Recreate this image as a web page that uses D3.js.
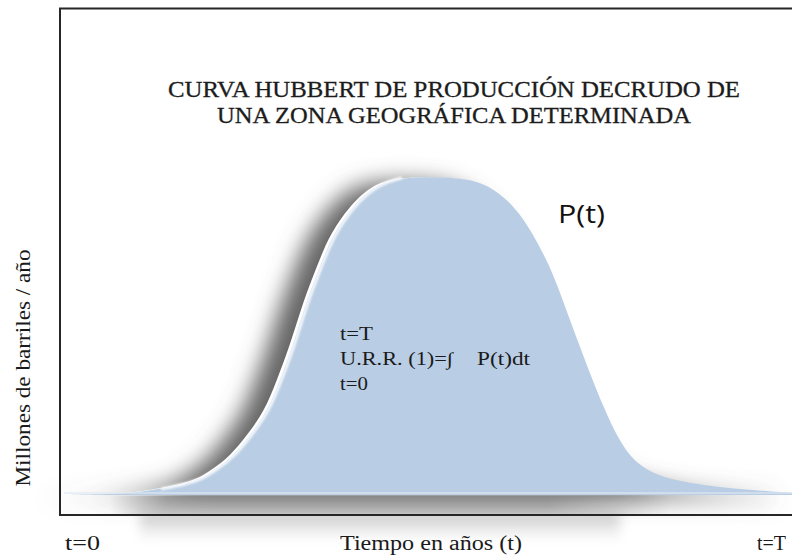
<!DOCTYPE html>
<html><head><meta charset="utf-8">
<script src="https://cdn.jsdelivr.net/npm/d3@7"></script>
<style>body{margin:0;background:#fff}svg{display:block}</style>
</head><body>
<script>
// Time (0 .. T, as % of the period) and production P(t) (as % of peak)
const years = [0, 4.9, 9.0, 13.0, 16.4, 18.5, 20.5, 23.0, 25.3, 27.6, 29.3, 31.1, 33.0, 34.8, 36.5, 39.8, 42.9, 45.7, 49.7, 53.8, 57.5, 62.0, 65.6, 66.7, 70.0, 73.5, 75.8, 78.1, 81.7, 87.6, 94.6, 100];
const production = [0, 0.2, 0.5, 1.9, 3.5, 5.0, 7.9, 12.3, 18.9, 26.2, 36.0, 47.0, 61.5, 72.0, 82.0, 92.7, 98.1, 99.7, 100, 99.7, 98.1, 89.6, 73.8, 68.1, 47.0, 26.2, 15.5, 9.1, 5.0, 2.8, 1.3, 0.6];
const xTickLabels = ["t=0", "t=T"];
const titleLines = ["CURVA HUBBERT DE PRODUCCIÓN DECRUDO DE", "UNA ZONA GEOGRÁFICA DETERMINADA"];
const integralLines = ["t=T", "U.R.R. (1)=∫", "t=0"];
const seriesLabel = "P(t)";
const xAxisTitle = "Tiempo en años (t)";
const yAxisTitle = "Millones de barriles / año";

const W = 792, H = 558;
const svg = d3.select("body").append("svg").attr("width", W).attr("height", H);
const defs = svg.append("defs");
defs.append("filter").attr("id","blurL").attr("filterUnits","userSpaceOnUse")
  .attr("x",0).attr("y",100).attr("width",W).attr("height",440)
  .append("feGaussianBlur").attr("stdDeviation", 11);
defs.append("filter").attr("id","blurB").attr("filterUnits","userSpaceOnUse")
  .attr("x",0).attr("y",460).attr("width",W).attr("height",98)
  .append("feGaussianBlur").attr("stdDeviation", 6);
defs.append("filter").attr("id","blurS").append("feGaussianBlur").attr("stdDeviation", 0.8);
const g1 = defs.append("linearGradient").attr("id","baseG");
[[0,"#8fb0d4"],[0.4,"#3e5f85"],[0.75,"#6f90b8"],[1,"#a9c2de"]].forEach(([o,c])=>g1.append("stop").attr("offset",o).attr("stop-color",c));
const g2 = defs.append("linearGradient").attr("id","shB");
[[0,"#ffffff"],[0.1,"#c4c4c4"],[0.2,"#bababa"],[0.78,"#bababa"],[1,"#ffffff"]].forEach(([o,c])=>g2.append("stop").attr("offset",o).attr("stop-color",c));
const g3 = defs.append("linearGradient").attr("id","shV").attr("x1",0).attr("x2",0).attr("y1",0).attr("y2",1);
[[0,"#c8c8c8"],[1,"#ffffff"]].forEach(([o,c])=>g3.append("stop").attr("offset",o).attr("stop-color",c));

const x = d3.scaleLinear().domain([0, 100]).range([64, 800]);
const y = d3.scaleLinear().domain([0, 100]).range([495, 177]);
const data = years.map((t,i)=>({t, p: production[i]}));

const area = d3.area().x(d=>x(d.t)).y0(y(0)).y1(d=>y(d.p)).curve(d3.curveBasis);
const line = d3.line().x(d=>x(d.t)).y(d=>y(d.p)).curve(d3.curveBasis);

// bottom shadow (between baseline and frame, and fading below frame)
svg.append("rect").attr("x", 110).attr("y", 496).attr("width", 560).attr("height", 19)
  .attr("fill", "url(#shB)");
const sb = svg.append("g").attr("filter", "url(#blurB)");
sb.append("rect").attr("x", 140).attr("y", 512).attr("width", 480).attr("height", 28)
  .attr("fill", "url(#shV)");
// left shadow of the curve
const sh = svg.append("g").attr("filter", "url(#blurL)");
sh.append("path").datum(data).attr("d", area).attr("fill", "#666666")
  .attr("transform", "translate(-26,4)");
// white gap between shadow and curve
svg.append("path").datum(data).attr("d", area).attr("fill", "#ffffff")
  .attr("transform", "translate(-3,0)");
// main area
svg.append("path").datum(data).attr("d", area).attr("fill", "#b9cde4");
// highlight on rising edge
svg.append("path").datum(data.filter(d=>d.t>=12 && d.t<=46)).attr("d", line)
  .attr("fill","none").attr("stroke","#ffffff").attr("stroke-width",3).attr("opacity",0.9)
  .attr("transform","translate(1.5,0)").attr("filter","url(#blurS)");
// light strip above the baseline
svg.append("line").attr("x1", 64).attr("x2", W).attr("y1", 493).attr("y2", 493)
  .attr("stroke", "#dfe8f2").attr("stroke-width", 1.5).attr("opacity", 0.8);
// baseline
svg.append("line").attr("x1", 64).attr("x2", W).attr("y1", 496).attr("y2", 496)
  .attr("stroke", "url(#baseG)").attr("stroke-width", 2);
// frame
svg.append("rect").attr("x", 60).attr("y", 8.5).attr("width", 760).attr("height", 506.5)
  .attr("fill", "none").attr("stroke", "#262626").attr("stroke-width", 2);

const serif = "'Liberation Serif','Times New Roman',serif";
// title
svg.selectAll(".title").data(titleLines).join("text")
  .attr("x", 454).attr("y", (d,i)=>97 + i*26).attr("text-anchor","middle")
  .attr("font-family", serif).attr("font-size", 23).attr("fill","#1c1c1c")
  .attr("stroke","#1c1c1c").attr("stroke-width",0.3)
  .attr("textLength", (d,i)=> i===0 ? 572 : 474).attr("lengthAdjust","spacingAndGlyphs")
  .text(d=>d);

// P(t)
svg.append("text").attr("x", 558).attr("y", 223).attr("font-family","'Open Sans','Noto Sans',sans-serif")
  .attr("font-size", 25).attr("fill","#111").attr("textLength", 47).attr("lengthAdjust","spacingAndGlyphs")
  .text(seriesLabel);

// integral text
const it = svg.append("g").attr("font-family", serif).attr("font-size", 18).attr("fill","#1a1a1a");
it.append("text").attr("x", 340).attr("y", 340).attr("textLength", 33).attr("lengthAdjust","spacingAndGlyphs").text(integralLines[0]);
it.append("text").attr("x", 340).attr("y", 365).attr("textLength", 113).attr("lengthAdjust","spacingAndGlyphs").text(integralLines[1]);
it.append("text").attr("x", 477).attr("y", 365).attr("textLength", 53).attr("lengthAdjust","spacingAndGlyphs").text(seriesLabel + "dt");
it.append("text").attr("x", 340).attr("y", 390).attr("textLength", 28).attr("lengthAdjust","spacingAndGlyphs").text(integralLines[2]);

// x labels
const xl = svg.append("g").attr("font-family", serif).attr("font-size", 20).attr("fill","#1a1a1a");
xl.append("text").attr("x", x(0)+1).attr("y", 550).attr("textLength", 35).attr("lengthAdjust","spacingAndGlyphs").text(xTickLabels[0]);
xl.append("text").attr("x", 757).attr("y", 550).text(xTickLabels[1]);
xl.append("text").attr("x", 431).attr("y", 550).attr("text-anchor","middle")
  .attr("textLength", 182).attr("lengthAdjust","spacingAndGlyphs").text(xAxisTitle);

// y label
svg.append("text").attr("transform","translate(30,368) rotate(-90)").attr("text-anchor","middle")
  .attr("font-family", serif).attr("font-size", 21).attr("fill","#1a1a1a")
  .attr("textLength", 237).attr("lengthAdjust","spacingAndGlyphs").text(yAxisTitle);
</script>
</body></html>
